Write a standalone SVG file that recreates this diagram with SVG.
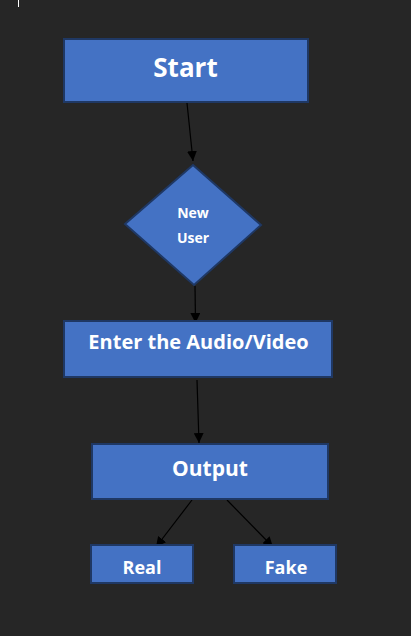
<svg xmlns="http://www.w3.org/2000/svg" width="411" height="636" viewBox="0 0 411 636">
<style>
.n{fill:#4472c4;stroke:#1f3864;stroke-width:2}
.t{fill:#ffffff;font-family:"Open Sans","Liberation Sans",sans-serif;font-weight:bold;text-anchor:middle}
.c{stroke:#000;stroke-width:1.2;fill:none;marker-end:url(#ah)}
</style>
<defs>
<marker id="ah" viewBox="0 0 10 10" refX="10" refY="5" markerWidth="10" markerHeight="10" markerUnits="userSpaceOnUse" orient="auto">
<path d="M0,0 L10,5 L0,10 z" fill="#000"/>
</marker>
</defs>
<rect width="411" height="636" fill="#262626"/>
<line x1="18.5" y1="0" x2="18.5" y2="7" stroke="#ffffff" stroke-width="1"/>
<g id="connectors">
<line class="c" x1="187" y1="103" x2="193" y2="161"/>
<line class="c" x1="195" y1="286" x2="195.5" y2="323"/>
<line class="c" x1="197" y1="380" x2="199" y2="443"/>
<line class="c" x1="192" y1="500" x2="156" y2="547"/>
<line class="c" x1="227" y1="500" x2="273" y2="547"/>
</g>
<g id="start">
<rect class="n" x="64" y="39" width="244" height="63"/>
<text class="t" x="185.5" y="77" font-size="26">Start</text>
</g>
<g id="newuser">
<polygon class="n" points="193,165 261,225 194,285 125,224"/>
<text class="t" x="193" y="218" font-size="14">New</text>
<text class="t" x="193" y="243" font-size="14">User</text>
</g>
<g id="enter">
<rect class="n" x="64" y="321" width="268" height="56"/>
<text class="t" x="198.5" y="349" font-size="20">Enter the Audio/Video</text>
</g>
<g id="output">
<rect class="n" x="92" y="444" width="236" height="55"/>
<text class="t" x="210" y="476" font-size="21">Output</text>
</g>
<g id="real">
<rect class="n" x="91" y="545" width="102" height="38"/>
<text class="t" x="142" y="574" font-size="18">Real</text>
</g>
<g id="fake">
<rect class="n" x="234" y="545" width="102" height="38"/>
<text class="t" x="286" y="574" font-size="18">Fake</text>
</g>
</svg>
